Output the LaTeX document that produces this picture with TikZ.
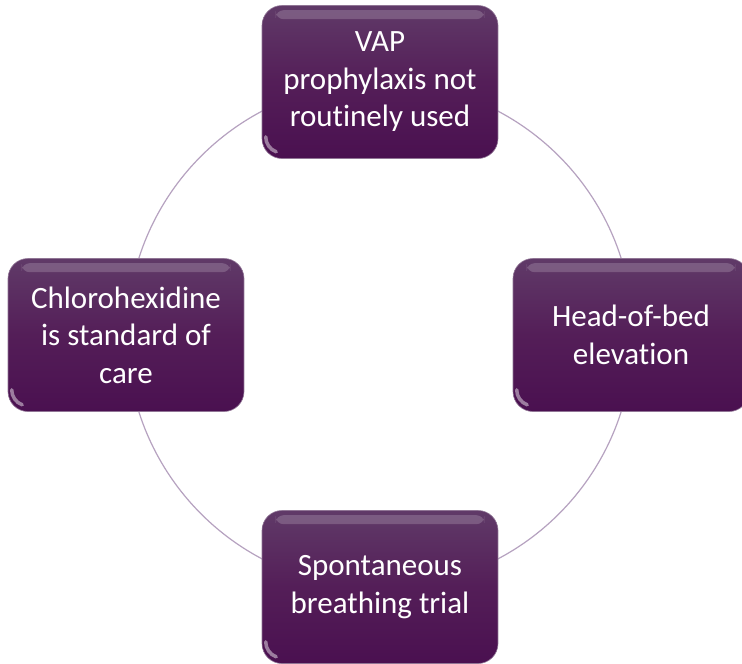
\documentclass[tikz,border=0pt]{standalone}
\usepackage{fontspec}
\setmainfont{Carlito}[Ligatures=NoCommon]
\definecolor{boxtop}{RGB}{96,58,104}
\definecolor{boxmid}{RGB}{84,30,88}
\definecolor{boxbot}{RGB}{74,16,80}
\definecolor{ringcol}{RGB}{182,162,192}
\begin{document}
\begin{tikzpicture}[x=1pt,y=-1pt,
  stepbox/.style={rounded corners=20pt, minimum width=236pt, minimum height=153pt,
    top color=boxtop, bottom color=boxbot, middle color=boxmid,
    draw=boxtop!70!white, line width=0.6pt,
    text=white, align=center,
    font=\fontsize{31}{37.5}\selectfont, inner sep=0pt},
  ring/.style={draw=ringcol, line width=1.2pt}]
\useasboundingbox (0,0) rectangle (742,664);
\clip (0,0) rectangle (742,664);
\fill[white] (0,0) rectangle (742,664);
\coordinate (c) at (380,335);
\draw[ring] (c) circle (253pt);
\node[stepbox] (top) at (380,82) {VAP\\prophylaxis not\\routinely used};
\node[stepbox] (right) at (631,335) {Head-of-bed\\elevation};
\node[stepbox] (bottom) at (380,587) {Spontaneous\\breathing trial};
\node[stepbox] (left) at (126,335) {Chlorohexidine\\is standard of\\care};
\foreach \n in {top,right,bottom,left}{
  \fill[white, opacity=0.18, rounded corners=8pt]
    ([xshift=14pt,yshift=-5pt]\n.north west) rectangle ([xshift=-14pt,yshift=-14pt]\n.north east);
  \draw[white, opacity=0.45, line width=3.5pt, line cap=round]
    ([xshift=4pt,yshift=22pt]\n.south west) arc[start angle=180, end angle=250, radius=16pt];
}
\end{tikzpicture}
\end{document}
